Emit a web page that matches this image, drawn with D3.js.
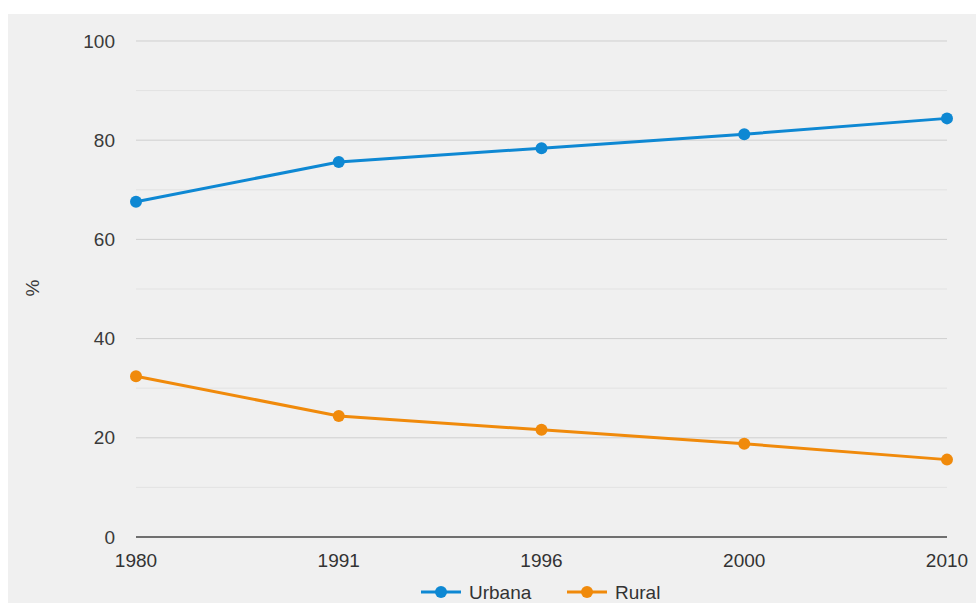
<!DOCTYPE html>
<html><head><meta charset="utf-8">
<script src="https://cdn.jsdelivr.net/npm/d3@7"></script>
<style>
html,body{margin:0;padding:0;background:#fff;}
svg{display:block;}
text{font-family:"Liberation Sans",Arial,sans-serif;}
</style></head>
<body>
<svg id="c" width="976" height="603"></svg>
<script>
const years = ["1980","1991","1996","2000","2010"];
const urbana = [67.6, 75.6, 78.4, 81.2, 84.4];
const rural = [32.4, 24.4, 21.6, 18.8, 15.6];
const yTicks = [0, 20, 40, 60, 80, 100];
const yMinor = [10, 30, 50, 70, 90];
const seriesNames = ["Urbana", "Rural"];
const colors = ["#0e88d3", "#f08a0b"];

const svg = d3.select("#c");
svg.append("rect").attr("x",8).attr("y",14).attr("width",968).attr("height",589).attr("fill","#f0f0f0");

const x = d3.scalePoint().domain(years).range([136, 947]);
const y = d3.scaleLinear().domain([0,100]).range([537, 41]);
const FS = 19;

const g = svg.append("g");
g.selectAll("line.minor").data(yMinor).enter().append("line")
  .attr("x1",136).attr("x2",947).attr("y1",d=>y(d)).attr("y2",d=>y(d))
  .attr("stroke","#e2e2e2").attr("stroke-width",1);
g.selectAll("line.major").data(yTicks.filter(d=>d>0)).enter().append("line")
  .attr("x1",136).attr("x2",947).attr("y1",d=>y(d)).attr("y2",d=>y(d))
  .attr("stroke","#cfcfcf").attr("stroke-width",1);

g.selectAll("text.yt").data(yTicks).enter().append("text")
  .attr("x",115).attr("y",d=>y(d)).attr("dy","0.35em").attr("text-anchor","end")
  .attr("font-size",FS).attr("fill","#3a3a3a").text(d=>d);

g.append("line").attr("x1",136).attr("x2",947).attr("y1",y(0)).attr("y2",y(0))
  .attr("stroke","#444").attr("stroke-width",1.5);

g.selectAll("text.xt").data(years).enter().append("text")
  .attr("x",d=>x(d)).attr("y",567).attr("text-anchor","middle")
  .attr("font-size",FS).attr("fill","#333").text(d=>d);

svg.append("text").attr("transform","translate(39,288) rotate(-90)")
  .attr("text-anchor","middle").attr("font-size",FS).attr("fill","#3a3a3a").text("%");

const data = [urbana, rural];
const line = d3.line().x((d,i)=>x(years[i])).y(d=>y(d));
data.forEach((vals,k)=>{
  svg.append("path").datum(vals).attr("d",line).attr("fill","none")
    .attr("stroke",colors[k]).attr("stroke-width",3);
  svg.selectAll(null).data(vals).enter().append("circle")
    .attr("cx",(d,i)=>x(years[i])).attr("cy",d=>y(d)).attr("r",6).attr("fill",colors[k]);
});

const legX = [421, 567];
seriesNames.forEach((n,k)=>{
  const lg = svg.append("g");
  lg.append("line").attr("x1",legX[k]).attr("x2",legX[k]+40).attr("y1",592).attr("y2",592)
    .attr("stroke",colors[k]).attr("stroke-width",3);
  lg.append("circle").attr("cx",legX[k]+20).attr("cy",592).attr("r",6).attr("fill",colors[k]);
  lg.append("text").attr("x",legX[k]+48).attr("y",592).attr("dy","0.35em")
    .attr("font-size",FS).attr("fill","#333").text(n);
});
</script>
</body></html>
